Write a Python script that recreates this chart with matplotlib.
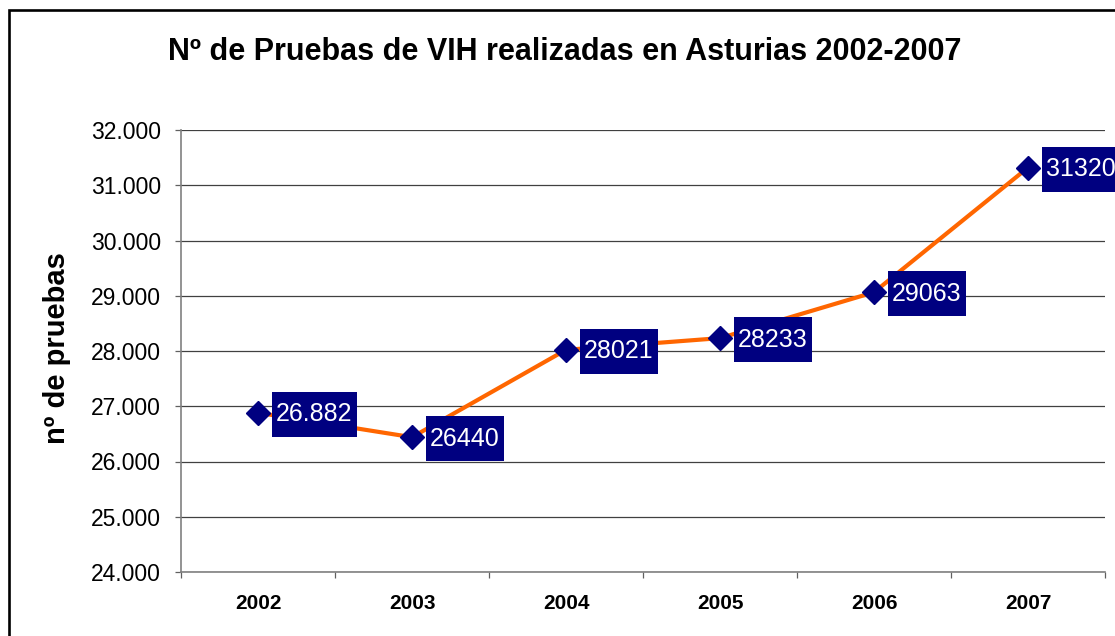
import matplotlib
matplotlib.use("Agg")
import matplotlib.pyplot as plt
from matplotlib.path import Path
from matplotlib.patches import Rectangle
from matplotlib.ticker import FuncFormatter, MultipleLocator, FixedLocator

plt.rcParams['font.family'] = ['Liberation Sans', 'DejaVu Sans']

# ---- data ----
years = ["2002", "2003", "2004", "2005", "2006", "2007"]
pruebas = [26882, 26440, 28021, 28233, 29063, 31320]
value_labels = ["26.882", "26440", "28021", "28233", "29063", "31320"]
title = "Nº de Pruebas de VIH realizadas en Asturias 2002-2007"
ylabel = "nº de pruebas"

W, H = 1115, 636
fig = plt.figure(figsize=(W / 100, H / 100), dpi=100)
fig.patch.set_facecolor("white")

# outer border (left & top visible, right/bottom beyond canvas)
fig.patches.append(Rectangle((9 / W, -0.1), 1.2, (H - 9.5) / H + 0.1,
                             transform=fig.transFigure, fill=False,
                             edgecolor="black", linewidth=1.9, clip_on=False))

ax = fig.add_axes([181 / W, (H - 572) / H, (1105 - 181) / W, (572 - 130) / H])
x = list(range(len(years)))

ax.set_xlim(-0.5, len(years) - 0.5)
ax.set_ylim(24000, 32000)
ax.yaxis.set_major_locator(MultipleLocator(1000))
ax.yaxis.set_major_formatter(FuncFormatter(lambda v, p: f"{int(v):,}".replace(",", ".")))
ax.grid(axis="y", color="#404040", linewidth=0.9, zorder=0)
ax.set_axisbelow(True)

for s in ["top", "right"]:
    ax.spines[s].set_visible(False)
for s in ["left", "bottom"]:
    ax.spines[s].set_color("#808080")
    ax.spines[s].set_linewidth(1.2)

ax.tick_params(axis="y", direction="out", length=4.5, width=0.9, color="#606060",
               pad=10, labelsize=16.5, labelcolor="black")
ax.set_xticks(x)
ax.set_xticklabels(years, fontsize=15, fontweight="bold")
ax.tick_params(axis="x", which="major", length=0, pad=16)
ax.xaxis.set_minor_locator(FixedLocator([i - 0.5 for i in range(len(years) + 1)]))
ax.tick_params(axis="x", which="minor", direction="out", length=4.5, width=0.9, color="#606060")

ax.plot(x, pruebas, color="#FF6600", linewidth=3, zorder=3, solid_capstyle="round")
ax.plot(x, pruebas, linestyle="none", marker="D", markersize=12, color="#000080",
        markeredgecolor="#000080", zorder=4)


def label_box(x0, y0, width, height, mutation_size):
    px, py = 4, 10.5
    xa, xb = x0 - px, x0 + width + px
    ya, yb = y0 - py, y0 + height + py
    return Path([(xa, ya), (xb, ya), (xb, yb), (xa, yb), (xa, ya)],
                [Path.MOVETO, Path.LINETO, Path.LINETO, Path.LINETO, Path.CLOSEPOLY])


for xi, yi, lab in zip(x, pruebas, value_labels):
    ax.annotate(lab, (xi, yi), xytext=(18, -1.5), textcoords="offset pixels",
                ha="left", va="center", fontsize=18, color="white",
                bbox=dict(boxstyle=label_box, facecolor="#000080", edgecolor="none"),
                zorder=5, annotation_clip=False)

fig.text(565 / W, 1 - 52 / H, title, ha="center", va="center",
         fontsize=22, fontweight="bold")
fig.text(57 / W, 1 - 348 / H, ylabel, ha="center", va="center", rotation=90,
         fontsize=21, fontweight="bold")

fig.savefig("out.png", dpi=100)
